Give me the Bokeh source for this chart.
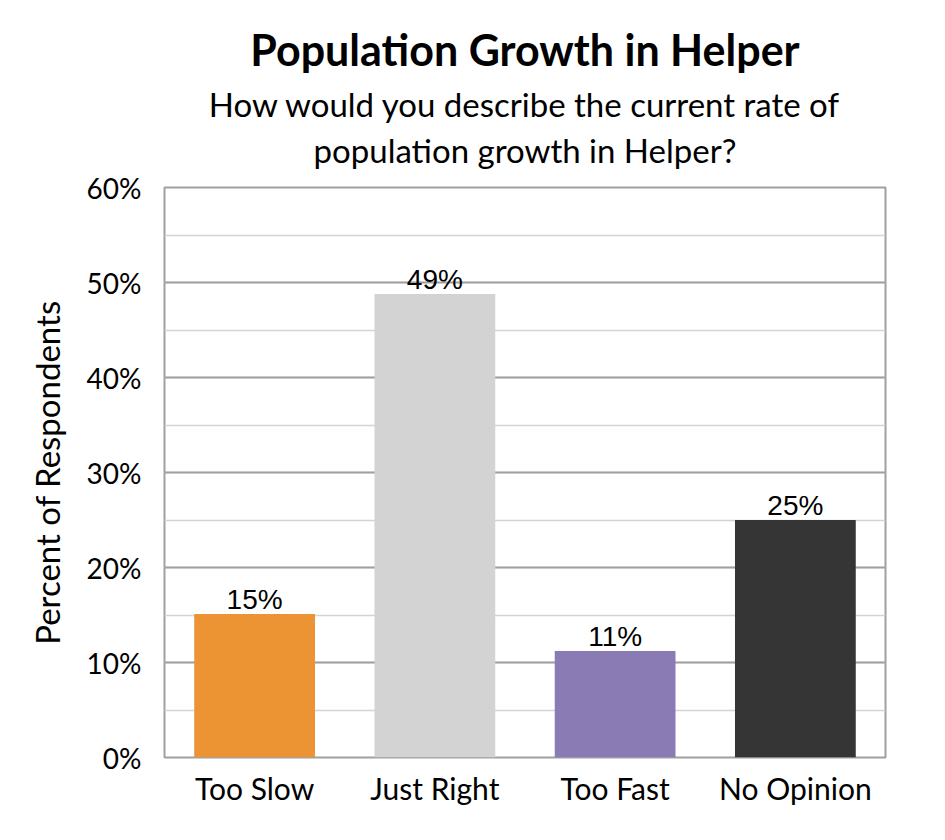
from bokeh.plotting import figure
from bokeh.models import ColumnDataSource, SingleIntervalTicker, PrintfTickFormatter, Title, Range1d, FactorRange
from bokeh.core.properties import value
from bokeh.embed import file_html
from bokeh.resources import INLINE

categories = ["Too Slow", "Just Right", "Too Fast", "No Opinion"]
percents = [15.1, 48.8, 11.2, 25.0]
labels = ["15%", "49%", "11%", "25%"]
colors = ["#EC9333", "#D3D3D3", "#8A7BB5", "#353535"]

title_text = "Population Growth in Helper"
subtitle_lines = ["How would you describe the current rate of", "population growth in Helper?"]
y_label = "Percent of Respondents"

W, H = 929, 824
frame_left, frame_right, frame_top, frame_bottom = 164, 885, 186, 757

p = figure(width=W, height=H, x_range=FactorRange(*categories, range_padding=0),
           y_range=Range1d(0, 60), output_backend="svg", toolbar_location=None,
           min_border_left=frame_left, min_border_right=W - frame_right,
           min_border_top=frame_top, min_border_bottom=H - frame_bottom)
p.outline_line_color = "#A0A0A0"
p.outline_line_width = 2
p.background_fill_color = "white"
p.border_fill_color = "white"

src = ColumnDataSource(dict(x=categories, top=percents, lab=labels, color=colors))
p.vbar(x="x", top="top", width=0.67, fill_color="color", line_color=None, source=src)
p.text(x="x", y="top", text="lab", source=src, text_align="center", text_baseline="bottom",
       y_offset=1, text_font=value("Liberation Sans"), text_font_size="28px", text_color="black")

p.xgrid.grid_line_color = None
p.yaxis.ticker = SingleIntervalTicker(interval=10, num_minor_ticks=2)
p.ygrid.grid_line_color = "#A0A0A0"
p.ygrid.grid_line_width = 2
p.ygrid.minor_grid_line_color = "#D4D4D4"
p.ygrid.minor_grid_line_width = 1.5
p.yaxis.formatter = PrintfTickFormatter(format="%d%%")

for ax in (p.xaxis, p.yaxis):
    ax.axis_line_color = None
    ax.major_tick_line_color = None
    ax.minor_tick_line_color = None
    ax.major_label_text_font = "Lato"
    ax.major_label_text_color = "black"
p.yaxis.major_label_text_font_size = "28px"
p.xaxis.major_label_text_font_size = "30px"
p.yaxis.major_label_standoff = 17
p.xaxis.major_label_standoff = 6
p.yaxis.axis_label = y_label
p.yaxis.axis_label_text_font = "Lato"
p.yaxis.axis_label_text_font_style = "normal"
p.yaxis.axis_label_text_font_size = "33px"
p.yaxis.axis_label_text_color = "black"
p.yaxis.axis_label_standoff = 17

t_line2 = Title(text=subtitle_lines[1], align="center", text_font="Lato", text_font_style="normal",
                text_font_size="33px", text_color="black", standoff=36)
t_line1 = Title(text=subtitle_lines[0], align="center", text_font="Lato", text_font_style="normal",
                text_font_size="33px", text_color="black", standoff=-28)
t_main = Title(text=title_text, align="center", text_font="Lato", text_font_style="bold",
               text_font_size="43px", text_color="black", standoff=42)
p.title = None
p.above = [t_line2, t_line1, t_main]

open("out.html", "w").write(file_html(p, INLINE))
